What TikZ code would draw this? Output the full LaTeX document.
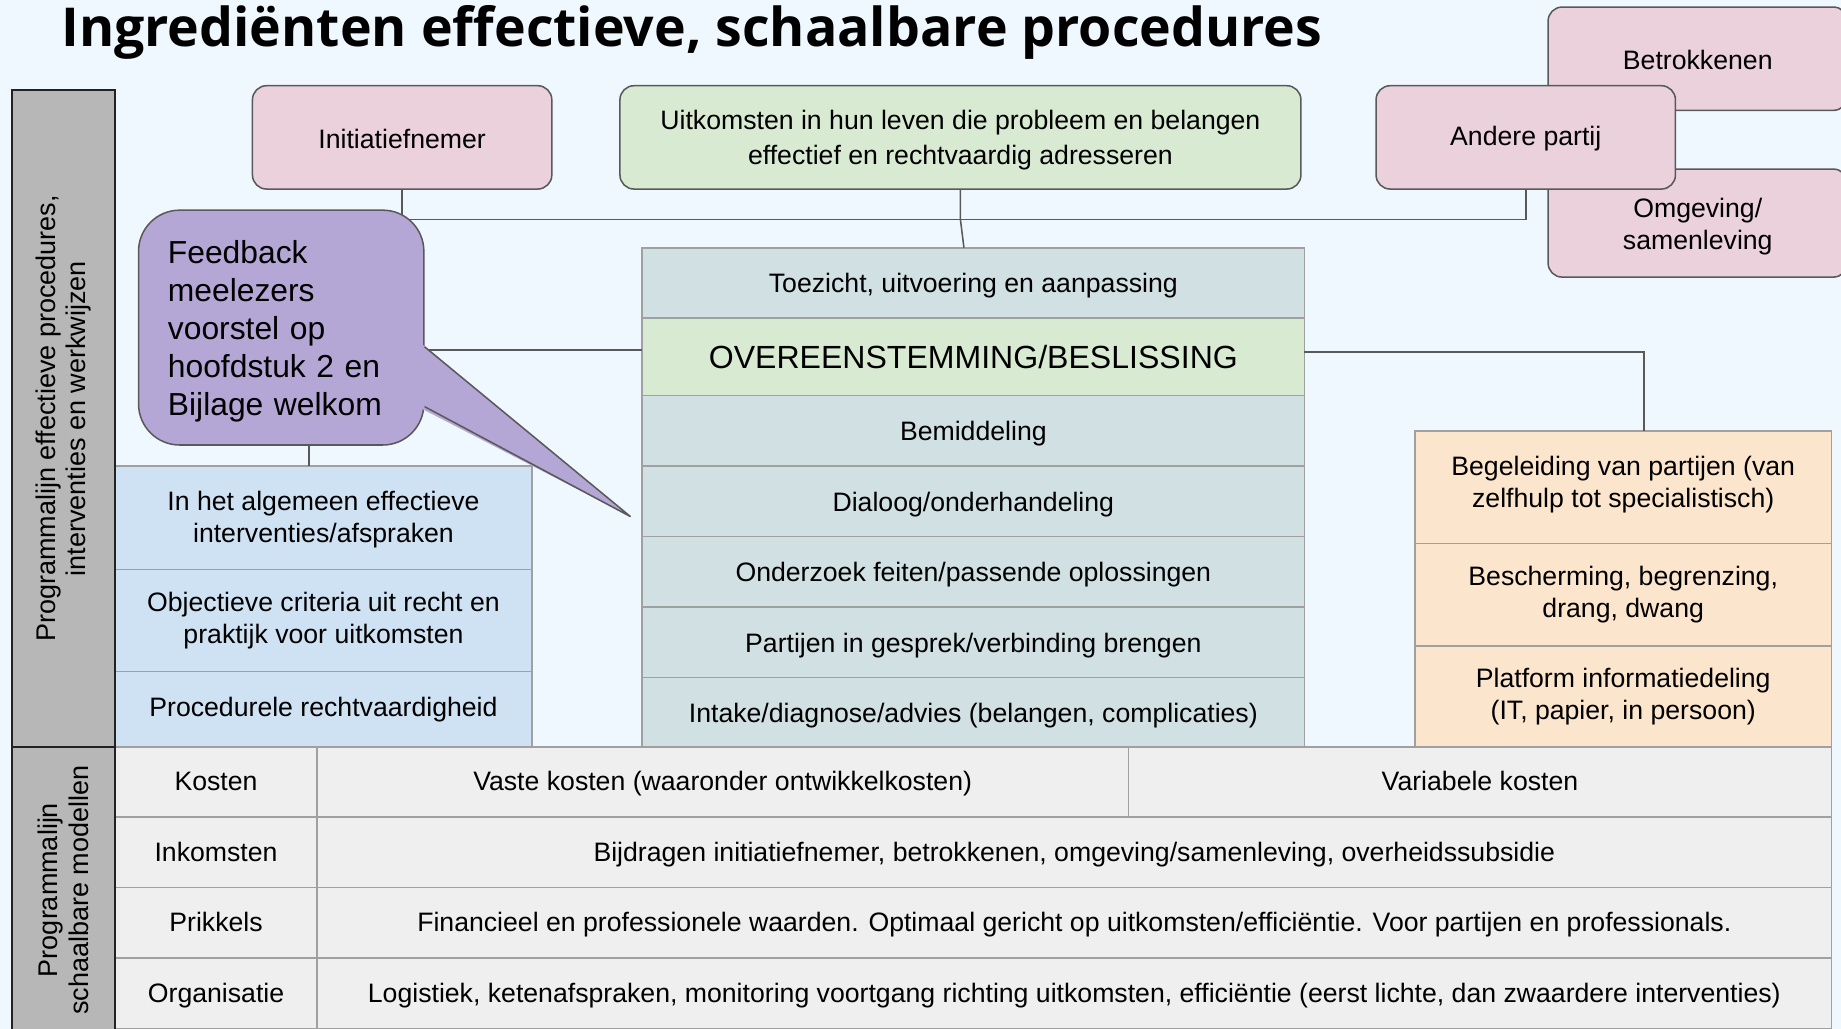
\documentclass[tikz,border=0pt]{standalone}
\usepackage{fontspec}
\setmainfont{Liberation Sans}
\newfontfamily\titelfont{Open Sans}
\usepackage{xcolor}
\usepackage{tikz}
\usetikzlibrary{positioning,calc}

\definecolor{achtergrond}{RGB}{240,248,255}
\definecolor{roze}{RGB}{234,209,220}
\definecolor{groen}{RGB}{217,234,211}
\definecolor{grijsblauw}{RGB}{208,224,227}
\definecolor{lichtblauw}{RGB}{207,226,243}
\definecolor{perzik}{RGB}{252,229,205}
\definecolor{paars}{RGB}{180,167,214}
\definecolor{celgrijs}{RGB}{239,239,239}
\definecolor{balkgrijs}{RGB}{183,183,183}
\definecolor{balkrand}{RGB}{34,34,34}
\definecolor{randgrijs}{RGB}{160,160,160}
\definecolor{lijngrijs}{RGB}{89,89,89}

\newcommand{\gewoon}{\fontsize{22.7}{27}\selectfont}
\newcommand{\groot}{\fontsize{27.3}{32}\selectfont}
\newcommand{\bubbelletter}{\fontsize{27.1}{32.3}\selectfont}
\newcommand{\titelgrootte}{\fontsize{45.7}{52}\selectfont}

\tikzstyle{partij} = [draw=lijngrijs, line width=1.3pt, rounded corners=12pt, fill=roze, minimum width=255pt, minimum height=88pt, inner sep=0pt, align=center, font=\gewoon]
\tikzstyle{stap} = [draw=randgrijs, line width=1.3pt, fill=grijsblauw, minimum width=564pt, minimum height=60pt, inner sep=0pt, outer sep=0pt, text height=20pt, text depth=3pt, font=\gewoon]
\tikzstyle{zijvak} = [draw=randgrijs, line width=1.3pt, minimum width=355pt, inner sep=0pt, outer sep=0pt, align=center, font=\gewoon]
\tikzstyle{cel} = [draw=randgrijs, line width=1.3pt, fill=celgrijs, minimum height=60pt, inner sep=0pt, outer sep=0pt, text height=18pt, text depth=3pt, font=\gewoon]
\tikzstyle{balk} = [draw=balkrand, line width=1.6pt, fill=balkgrijs, rotate=90, minimum height=88pt, inner sep=0pt, align=center, font=\fontsize{23}{26}\selectfont]
\tikzstyle{verbinding} = [draw=lijngrijs, line width=1.3pt]
\tikzstyle{bubbel} = [draw=lijngrijs, line width=1.3pt, fill=paars, rounded corners=35pt, minimum width=243pt, minimum height=200pt, text width=193pt, align=left, font=\bubbelletter]

\begin{document}
\begin{tikzpicture}[x=1pt, y=-1pt]
    \useasboundingbox (0,0) rectangle (1568,876);
    \clip (0,0) rectangle (1568,876);
    \fill[achtergrond] (0,0) rectangle (1568,876);

    \node[anchor=base west, inner sep=0pt, font=\titelfont\bfseries\titelgrootte] (titel) at (52,40) {Ingrediënten effectieve, schaalbare procedures};

    % partijen bovenaan
    \node[partij] (betrokkenen) at (1446,50) {\rule{0pt}{19pt}Betrokkenen};
    \node[partij, minimum height=92pt] (omgeving) at (1446,190) {\rule{0pt}{22pt}Omgeving/\\samenleving};
    \node[partij] (ander) at (1299.5,117) {\rule{0pt}{19pt}Andere partij};
    \node[partij] (initiatief) at (342.5,117) {\rule{0pt}{19pt}Initiatiefnemer};
    \node[partij, fill=groen, minimum width=580pt, font=\fontsize{22.7}{30}\selectfont] (uitkomsten) at (818,117) {\rule{0pt}{21pt}Uitkomsten in hun leven die probleem en belangen\\effectief en rechtvaardig adresseren};

    % middelste kolom
    \node[stap] (toezicht) at (829,241) {Toezicht, uitvoering en aanpassing};
    \node[stap, fill=groen, minimum height=66pt, font=\groot, text height=22pt, text depth=2.5pt, below=0pt of toezicht] (overeen) {OVEREENSTEMMING/BESLISSING};
    \node[stap, below=0pt of overeen] (bemiddeling) {Bemiddeling};
    \node[stap, below=0pt of bemiddeling] (dialoog) {Dialoog/onderhandeling};
    \node[stap, below=0pt of dialoog] (onderzoek) {Onderzoek feiten/passende oplossingen};
    \node[stap, below=0pt of onderzoek] (gesprek) {Partijen in gesprek/verbinding brengen};
    \node[stap, minimum height=59pt, below=0pt of gesprek] (intake) {Intake/diagnose/advies (belangen, complicaties)};

    % links
    \node[zijvak, fill=lichtblauw, minimum height=88pt] (algemeen) at (275.5,441) {\rule{0pt}{20pt}In het algemeen effectieve\\interventies/afspraken};
    \node[zijvak, fill=lichtblauw, minimum height=87pt, below=0pt of algemeen] (criteria) {Objectieve criteria uit recht en\\praktijk voor uitkomsten};
    \node[zijvak, fill=lichtblauw, minimum height=64pt, below=0pt of criteria] (procedureel) {Procedurele rechtvaardigheid};

    % rechts
    \node[zijvak, fill=perzik, minimum height=96pt] (begeleiding) at (1382.5,415) {Begeleiding van partijen (van\\zelfhulp tot specialistisch)\rule[-9pt]{0pt}{9pt}};
    \node[zijvak, fill=perzik, minimum height=87pt, below=0pt of begeleiding] (bescherming) {Bescherming, begrenzing,\\drang, dwang};
    \node[zijvak, fill=perzik, minimum height=86pt, below=0pt of bescherming] (platform) {Platform informatiedeling\\(IT, papier, in persoon)};

    % tabel schaalbare modellen
    \node[cel, minimum width=172pt] (kosten) at (184,666) {Kosten};
    \node[cel, minimum width=691pt, right=0pt of kosten] (vast) {Vaste kosten (waaronder ontwikkelkosten)};
    \node[cel, minimum width=599pt, right=0pt of vast] (variabel) {Variabele kosten};
    \node[cel, minimum width=172pt, below=0pt of kosten] (inkomsten) {Inkomsten};
    \node[cel, minimum width=1290pt, right=0pt of inkomsten] (bijdragen) {Bijdragen initiatiefnemer, betrokkenen, omgeving/samenleving, overheidssubsidie};
    \node[cel, minimum width=172pt, below=0pt of inkomsten] (prikkels) {Prikkels};
    \node[cel, minimum width=1290pt, right=0pt of prikkels] (waarden) {Financieel en professionele waarden. Optimaal gericht op uitkomsten/efficiëntie. Voor partijen en professionals.};
    \node[cel, minimum width=172pt, below=0pt of prikkels] (organisatie) {Organisatie};
    \node[cel, minimum width=1290pt, right=0pt of organisatie] (logistiek) {Logistiek, ketenafspraken, monitoring voortgang richting uitkomsten, efficiëntie (eerst lichte, dan zwaardere interventies)};

    \node[balk, minimum width=559pt] (balk1) at (54,356.5) {Programmalijn effectieve procedures,\\interventies en werkwijzen};
    \node[balk, minimum width=244pt] (balk2) at (54,758) {Programmalijn\\schaalbare modellen};

    % lijnen
    \coordinate (kruis) at (818,187);
    \draw[verbinding] (initiatief.south) |- (kruis);
    \draw[verbinding] (ander.south) |- (kruis);
    \draw[verbinding] (uitkomsten.south) -- (kruis) -- ([xshift=-8pt]toezicht.north);
    \draw[verbinding] ([xshift=-12.5pt]algemeen.north) |- ([yshift=6pt]overeen.west);
    \draw[verbinding] ([yshift=4pt]overeen.east) -| ([xshift=17.5pt]begeleiding.north);

    % tekstballon
    \node[bubbel] (feedback) at (239.5,279) {\rule{0pt}{26pt}Feedback\\meelezers\\voorstel op\\hoofdstuk 2 en\\Bijlage welkom};
    \coordinate (punt) at (537,440);
    \fill[paars] ($(feedback.north east)+(-2,115)$) -- (punt) -- ($(feedback.north east)+(-2,170)$) -- cycle;
    \draw[verbinding] ($(feedback.north east)+(0,117)$) -- (punt) -- ($(feedback.north east)+(0,168)$);
\end{tikzpicture}
\end{document}
